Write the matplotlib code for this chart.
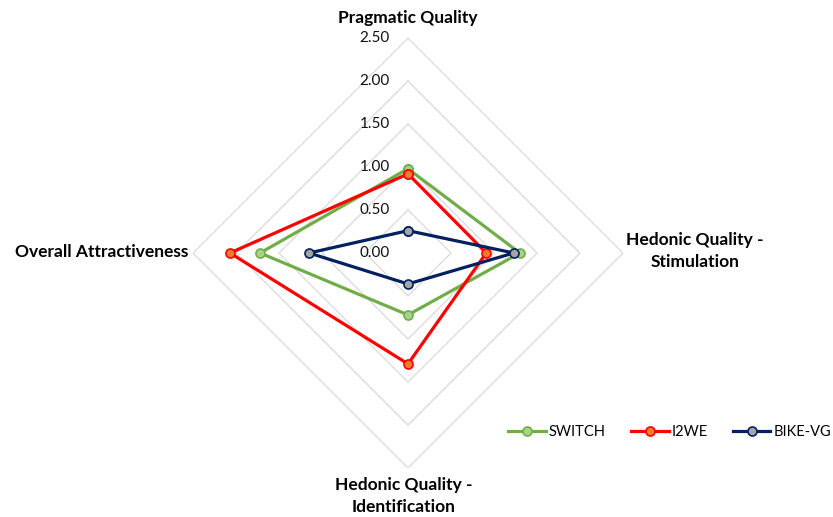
import numpy as np
import matplotlib
matplotlib.use("Agg")
import matplotlib.pyplot as plt
from matplotlib.lines import Line2D

categories = ["Pragmatic Quality", "Hedonic Quality -\nStimulation",
              "Hedonic Quality -\nIdentification", "Overall Attractiveness"]
series_names = ["SWITCH", "I2WE", "BIKE-VG"]
switch_vals = [0.98, 1.30, 0.72, 1.72]
i2we_vals = [0.92, 0.91, 1.29, 2.07]
bikevg_vals = [0.26, 1.23, 0.36, 1.15]
tick_values = [0.0, 0.5, 1.0, 1.5, 2.0, 2.5]
tick_labels = ["0.00", "0.50", "1.00", "1.50", "2.00", "2.50"]

line_colors = ["#70AD47", "#FF0000", "#002060"]
face_colors = ["#A9D18E", "#ED7D31", "#A5A5A5"]

W, H = 833, 517
fig = plt.figure(figsize=(W / 100, H / 100), dpi=100)
cx, cy, R = 408, 253, 215
ax = fig.add_axes([(cx - R) / W, (H - cy - R) / H, 2 * R / W, 2 * R / H], projection="polar")
ax.set_theta_offset(np.pi / 2)
ax.set_theta_direction(-1)
ax.set_ylim(0, 2.5)
ax.grid(False)
ax.spines["polar"].set_visible(False)
ax.set_xticks([])
ax.set_yticks([])
ax.patch.set_alpha(0)

n = len(categories)
angles = np.arange(n) * 2 * np.pi / n
ang_closed = np.concatenate([angles, angles[:1]])

for t in tick_values[1:]:
    ax.plot(ang_closed, [t] * (n + 1), color="#D9D9D9", lw=0.9, zorder=1)

font = "Lato"
for t, lab in zip(tick_values, tick_labels):
    ax.annotate(lab, xy=(0, t), xytext=(-18, 0), textcoords="offset pixels",
                ha="right", va="center", fontsize=11, family=font, color="#111111")

all_vals = [switch_vals, i2we_vals, bikevg_vals]
for vals, name, lc, fc in zip(all_vals, series_names, line_colors, face_colors):
    v = list(vals) + [vals[0]]
    ax.plot(ang_closed, v, color=lc, lw=2.3, marker="o", markersize=6.5,
            markerfacecolor=fc, markeredgecolor=lc, markeredgewidth=1.2,
            zorder=3, label=name)

def ft(x, y, s, **kw):
    fig.text(x / W, 1 - y / H, s, family=font, fontweight="bold", fontsize=12.5,
             color="#000000", **kw)

ft(408, 18, categories[0], ha="center", va="center")
ft(695, 251, categories[1], ha="center", va="center", linespacing=1.45)
ft(404, 496, categories[2], ha="center", va="center", linespacing=1.45)
ft(188, 252, categories[3], ha="right", va="center")

handles = [Line2D([], [], color=lc, lw=2.3, marker="o", markersize=6.5,
                  markerfacecolor=fc, markeredgecolor=lc, markeredgewidth=1.2)
           for lc, fc in zip(line_colors, face_colors)]
fig.legend(handles, series_names, loc="center right", bbox_to_anchor=(831 / W, 1 - 432 / H),
           ncol=3, frameon=False, prop={"family": font, "size": 10.5},
           handlelength=2.6, handletextpad=0.2, columnspacing=1.7,
           borderpad=0, borderaxespad=0)

fig.savefig("out.png", dpi=100)
